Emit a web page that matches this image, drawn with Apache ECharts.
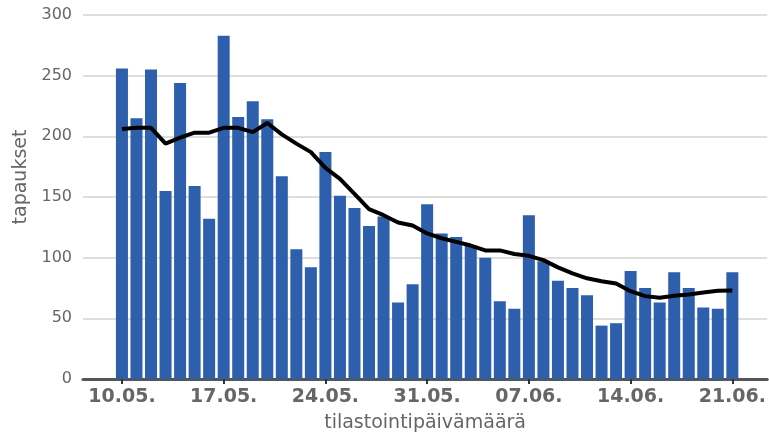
<!DOCTYPE html>
<html>
<head>
<meta charset="utf-8">
<script src="https://cdn.jsdelivr.net/npm/echarts@6/dist/echarts.min.js"></script>
<style>
html,body{margin:0;padding:0;background:#fff;}
#c{width:769px;height:438px;}
</style>
</head>
<body>
<div id="c"></div>
<script>
var dates = ["10.05.","11.05.","12.05.","13.05.","14.05.","15.05.","16.05.",
  "17.05.","18.05.","19.05.","20.05.","21.05.","22.05.","23.05.",
  "24.05.","25.05.","26.05.","27.05.","28.05.","29.05.","30.05.",
  "31.05.","01.06.","02.06.","03.06.","04.06.","05.06.","06.06.",
  "07.06.","08.06.","09.06.","10.06.","11.06.","12.06.","13.06.",
  "14.06.","15.06.","16.06.","17.06.","18.06.","19.06.","20.06.","21.06."];
var cases = [256,215,255,155,244,159,132,
  283,216,229,214,167,107,92,
  187,151,141,126,134,63,78,
  144,120,117,110,100,64,58,
  135,97,81,75,69,44,46,
  89,75,63,88,75,59,58,88];
var average = [206,207,207,194,199,203,203,
  207,207,203.5,211,201.6,194,187,
  174,165,152.5,140,135,129,126.5,
  120,116,113,110,106,106,103,
  101.5,98,92,87,83,80.6,78.7,
  72.4,68.3,67,68.6,69.7,71.3,72.7,73];
var tickDates = ["10.05.","17.05.","24.05.","31.05.","07.06.","14.06.","21.06."];
var yTicks = [0,50,100,150,200,250,300];

var FONT = '"DejaVu Sans", sans-serif';
var tickIdx = tickDates.map(function(d){return dates.indexOf(d);});
var barData = cases.map(function(v,i){return [i,v];});
var lineData = average.map(function(v,i){return [i,v];});

var chart = echarts.init(document.getElementById('c'));
chart.setOption({
  animation:false,
  grid:{left:83,right:0,top:15,bottom:57,containLabel:false},
  xAxis:{
    type:'value',
    min:-2.68,
    max:44.4,
    name:'tilastointipäivämäärä',
    nameLocation:'middle',
    nameGap:35,
    nameTextStyle:{color:'#666',fontSize:19,fontFamily:FONT},
    axisLine:{show:true,lineStyle:{color:'#555',width:3}},
    axisTick:{show:true,customValues:tickIdx,length:5,lineStyle:{color:'#333',width:2}},
    axisLabel:{customValues:tickIdx,color:'#666',fontSize:19,fontWeight:'bold',fontFamily:FONT,margin:9,
      formatter:function(v){return dates[Math.round(v)];}},
    splitLine:{show:false}
  },
  yAxis:{
    type:'value',
    min:yTicks[0],max:yTicks[yTicks.length-1],interval:50,
    name:'tapaukset',
    nameLocation:'middle',
    nameGap:49,
    nameTextStyle:{color:'#666',fontSize:19,fontFamily:FONT,padding:[0,0,0,40]},
    axisLine:{show:false},
    axisTick:{show:false},
    axisLabel:{color:'#666',fontSize:16,fontFamily:FONT,margin:11},
    splitLine:{lineStyle:{color:'#dedede',width:2}}
  },
  series:[
    {type:'bar',data:barData,barWidth:12,itemStyle:{color:'#2d5fac'},z:2},
    {type:'line',data:lineData,symbol:'none',lineStyle:{color:'#000',width:4},z:3}
  ]
});
</script>
</body>
</html>
